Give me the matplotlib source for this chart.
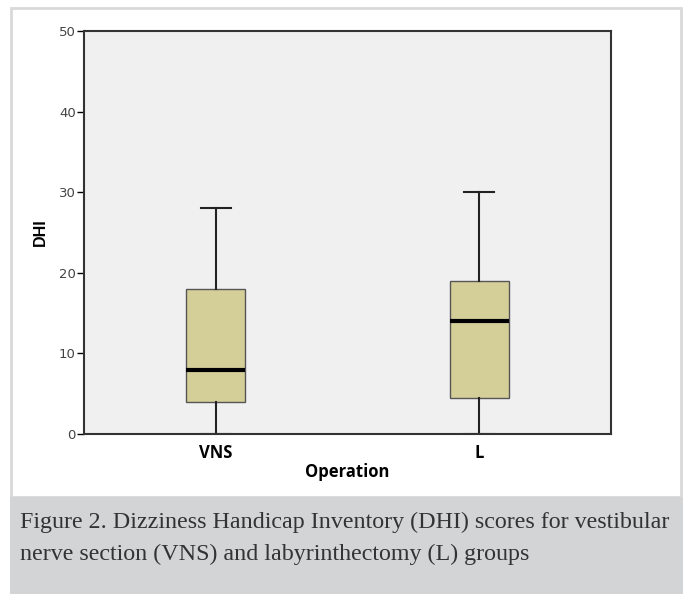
import matplotlib.pyplot as plt
from matplotlib.patches import Rectangle

# box plot summary values
groups = ["VNS", "L"]
whisker_low = [0, 0]
q1 = [4, 4.5]
medians = [8, 14]
q3 = [18, 19]
whisker_high = [28, 30]
yticks = [0, 10, 20, 30, 40, 50]

caption = ("Figure 2. Dizziness Handicap Inventory (DHI) scores for vestibular\n"
           "nerve section (VNS) and labyrinthectomy (L) groups")

W, H = 683, 594
fig = plt.figure(figsize=(W / 100, H / 100), dpi=100)

# outer panel border and caption band
fig.patches.append(Rectangle((11 / W, 97 / H), 670 / W, 489 / H, transform=fig.transFigure,
                             facecolor="white", edgecolor="#d9d9d9", linewidth=2, zorder=-10))
fig.patches.append(Rectangle((10 / W, 0), 673 / W, 97 / H, transform=fig.transFigure,
                             facecolor="#d3d4d6", edgecolor="none", zorder=-10))

ax = fig.add_axes([84 / W, (H - 434) / H, (611 - 84) / W, (434 - 31) / H])
ax.set_facecolor("#f0f0f0")

stats = []
for i, g in enumerate(groups):
    stats.append({"label": g, "whislo": whisker_low[i], "q1": q1[i], "med": medians[i],
                  "q3": q3[i], "whishi": whisker_high[i], "fliers": []})

ax.bxp(stats, positions=[1, 2], widths=0.225, patch_artist=True, showfliers=False,
       boxprops=dict(facecolor="#d4cf99", edgecolor="#555555", linewidth=1.0),
       medianprops=dict(color="black", linewidth=3),
       whiskerprops=dict(color="#222222", linewidth=1.5),
       capprops=dict(color="#222222", linewidth=1.5),
       capwidths=0.115)

ax.set_xlim(0.5, 2.5)
ax.set_ylim(0, 50)
ax.set_yticks(yticks)
ax.set_yticklabels([str(t) for t in yticks], fontsize=9.5, color="#444444",
                   fontfamily="Liberation Sans Narrow")
ax.set_xticks([1, 2])
ax.set_xticklabels(groups, fontsize=12, fontweight="bold", fontfamily="Open Sans")
ax.tick_params(axis="y", direction="out", length=5, width=1, pad=1)
ax.tick_params(axis="x", length=0, pad=7)
for s in ax.spines.values():
    s.set_color("#333333")
    s.set_linewidth(1.5)
ax.set_ylabel("DHI", fontsize=11.5, fontweight="bold", fontfamily="Liberation Sans", labelpad=8)
ax.set_xlabel("Operation", fontsize=12, fontweight="bold", fontfamily="Open Sans", labelpad=1)

fig.text(20 / W, (H - 512) / H, caption, fontsize=17.3, fontfamily="Liberation Serif",
         color="#333333", va="top", ha="left", linespacing=1.68)

fig.savefig("out.png", dpi=100)
